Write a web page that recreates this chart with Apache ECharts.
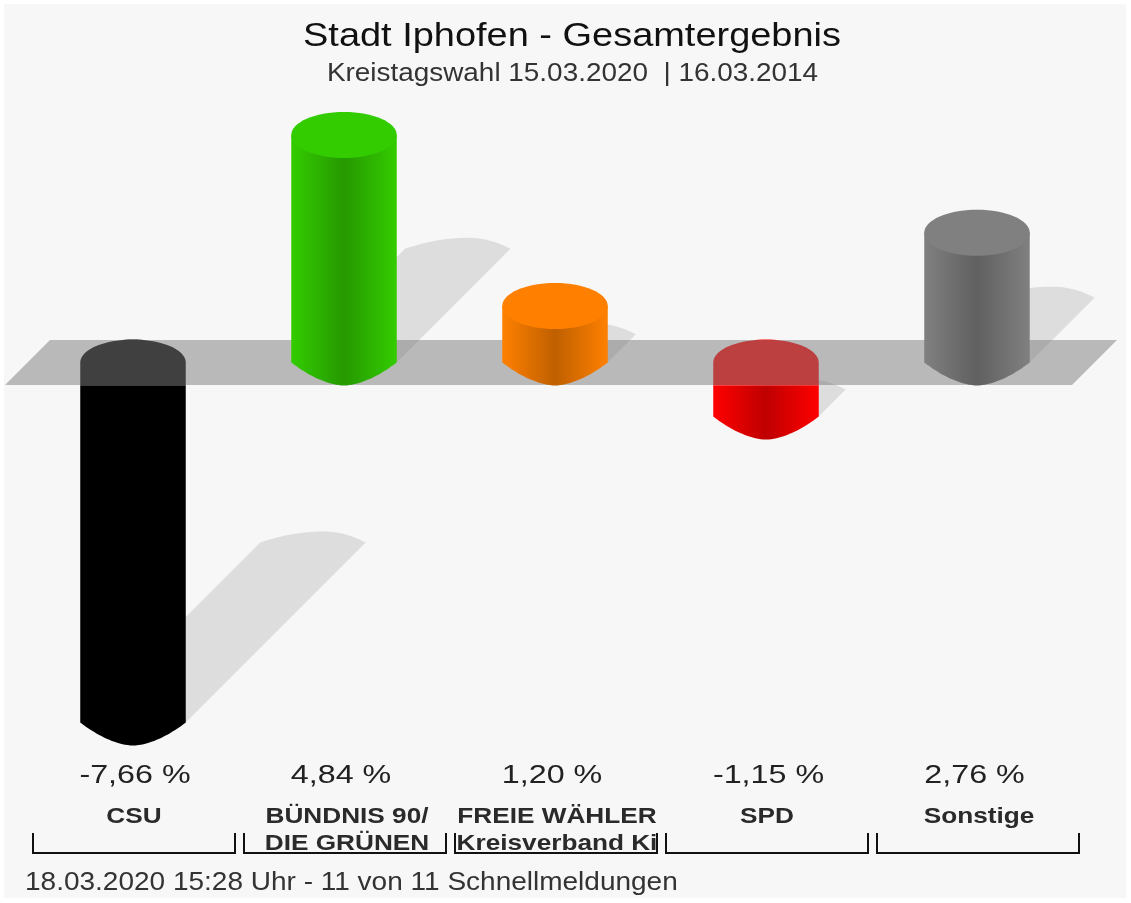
<!DOCTYPE html>
<html>
<head>
<meta charset="utf-8">
<script src="https://cdn.jsdelivr.net/npm/echarts@6/dist/echarts.min.js"></script>
<style>
html,body{margin:0;padding:0;background:#fff}
#c{width:1131px;height:903px;filter:blur(0.6px)}
</style>
</head>
<body>
<div id="c"></div>
<script>
const categories = ['CSU', 'BÜNDNIS 90/\nDIE GRÜNEN', 'FREIE WÄHLER\nKreisverband Ki', 'SPD', 'Sonstige'];
const values = [-7.66, 4.84, 1.20, -1.15, 2.76];
const edgeColors = ['#000000', '#33cc00', '#ff8000', '#ff0000', '#808080'];
const midColors = ['#000000', '#269900', '#bf6000', '#bf0000', '#606060'];
const titleText = 'Stadt Iphofen - Gesamtergebnis';
const subtitleText = 'Kreistagswahl 15.03.2020  | 16.03.2014';
const footerText = '18.03.2020 15:28 Uhr - 11 von 11 Schnellmeldungen';
const FONT = '"Liberation Sans", Arial, sans-serif';
const RY = 23;

function bandHalf(api){ return api.size([1,0])[0] * 0.25; }
function ellipseArc(cx, cy, a, b, from, to, n){
  const pts = [];
  for (let i = 0; i <= n; i++){
    const t = from + (to - from) * i / n;
    pts.push([cx + a * Math.cos(t), cy + b * Math.sin(t)]);
  }
  return pts;
}
function lens(cx, cy, a, b, n){
  const pts = [];
  for (let i = 0; i <= n; i++){
    const u = 1 - 2 * i / n;
    pts.push([cx + a * u, cy + b * (1 - Math.pow(Math.abs(u), 1.75))]);
  }
  return pts;
}
function grad(i){
  return {type:'linear', x:0, y:0, x2:1, y2:0, colorStops:[
    {offset:0, color:edgeColors[i]}, {offset:0.5, color:midColors[i]}, {offset:1, color:edgeColors[i]}]};
}
function bar(params, api){
  const i = api.value(0), v = api.value(1);
  const cx = api.coord([i, 0])[0], y0 = api.coord([i, 0])[1], y1 = api.coord([i, v])[1];
  const a = bandHalf(api);
  const kids = [];
  if (v >= 0){
    kids.push({type:'polygon', shape:{points:[[cx-a,y1],[cx+a,y1]].concat(lens(cx,y0,a,RY,40))}, style:{fill:grad(i)}});
    kids.push({type:'ellipse', shape:{cx:cx, cy:y1, rx:a, ry:RY}, style:{fill:edgeColors[i]}});
  } else {
    const yTop = y0 + RY;
    kids.push({type:'polygon', shape:{points:[[cx-a,yTop],[cx+a,yTop]].concat(lens(cx,y1,a,RY,40))}, style:{fill:grad(i)}});
    const dome = ellipseArc(cx, y0, a, RY, Math.PI, 2*Math.PI, 40);
    kids.push({type:'polygon', shape:{points:dome.concat([[cx+a,yTop],[cx-a,yTop]])}, style:{fill:edgeColors[i]}});
  }
  return {type:'group', children:kids};
}
function shadow(params, api){
  const i = api.value(0), v = api.value(1);
  const cx = api.coord([i, 0])[0], y0 = api.coord([i, 0])[1], y1 = api.coord([i, v])[1];
  const a = bandHalf(api);
  const h = Math.abs(y1 - y0);
  const base = v >= 0 ? y0 : y1;
  const s = h / 2;
  const peak = 0.2, arc = [];
  for (let k = 0; k <= 40; k++){
    const u = 1 - k / 20;
    const w = u > peak ? (u - peak) / (1 - peak) : (u - peak) / (1 + peak);
    arc.push([cx + s + a * u, base - s - 11 * (1 - w * w)]);
  }
  return {type:'polygon', shape:{points:[[cx+a, base]].concat(arc, [[cx-a, base]])}, style:{fill:'rgba(0,0,0,0.1)'}};
}
function plane(params, api){
  const y0 = api.coord([0, 0])[1];
  const first = api.coord([0, 0])[0], last = api.coord([categories.length-1, 0])[0];
  const h = 22.5;
  return {type:'polygon', shape:{points:[[first-128,y0+h],[first-83,y0-h],[last+140,y0-h],[last+95,y0+h]]},
    style:{fill:'rgba(125,125,125,0.51)'}};
}
function valueLabel(params, api){
  const i = api.value(0), v = api.value(1);
  const cx = api.coord([i, 0])[0];
  return {type:'text', x:cx + [2,-3,-3,2.5,-2.5][i], y:776, scaleX:1.24, style:{
    text:v.toFixed(2).replace('.', ',') + ' %', font:'26px ' + FONT, fill:'#222', align:'center', verticalAlign:'middle'}};
}
function partyLabel(params, api){
  const i = api.value(0);
  const cx = api.coord([i, 0])[0];
  return {type:'text', x:cx + [1,3,2,1,2][i], y:803, scaleX:1.19, style:{
    text:categories[i], font:'bold 22px ' + FONT, fill:'#2a2a2a', align:'center', verticalAlign:'top', lineHeight:27}};
}
function bracket(params, api){
  const i = api.value(0);
  const cx = api.coord([i, 0])[0] + 1;
  const w = 101;
  return {type:'polyline', shape:{points:[[cx-w,833],[cx-w,853],[cx+w,853],[cx+w,833]]},
    style:{stroke:'#111', lineWidth:2, fill:null}};
}

const rows = values.map((v, i) => [i, v]);
const negRows = rows.filter(r => r[1] < 0);
const posRows = rows.filter(r => r[1] >= 0);

const chart = echarts.init(document.getElementById('c'), null, {renderer:'canvas'});
chart.setOption({
  animation:false,
  backgroundColor:'#ffffff',
  graphic:[
    {type:'rect', z:-10, silent:true, shape:{x:4, y:4, width:1122, height:894}, style:{fill:'#f7f7f7'}},
    {type:'text', x:572, y:37, scaleX:1.15, z:10, style:{text:titleText, font:'33px ' + FONT, fill:'#111', align:'center', verticalAlign:'middle'}},
    {type:'text', x:572.5, y:74, scaleX:1.116, z:10, style:{text:subtitleText, font:'25px ' + FONT, fill:'#333', align:'center', verticalAlign:'middle'}},
    {type:'text', x:25, y:883, scaleX:1.12, z:10, style:{text:footerText, font:'25px ' + FONT, fill:'#333', align:'left', verticalAlign:'middle'}}
  ],
  grid:{left:27.5, width:1055, top:80.5, height:658},
  xAxis:{type:'category', data:categories, axisLine:{show:false}, axisTick:{show:false}, axisLabel:{show:false}},
  yAxis:{type:'value', min:-8, max:6, interval:1, show:false},
  series:[
    {type:'custom', z:1, silent:true, clip:false, data:rows, renderItem:shadow, encode:{x:0,y:1}},
    {type:'custom', z:2, silent:true, clip:false, data:negRows, renderItem:bar, encode:{x:0,y:1}},
    {type:'custom', z:3, silent:true, clip:false, data:[[0,0]], renderItem:plane},
    {type:'custom', z:4, silent:true, clip:false, data:posRows, renderItem:bar, encode:{x:0,y:1}},
    {type:'custom', z:5, silent:true, clip:false, data:rows, renderItem:valueLabel, encode:{x:0,y:1}},
    {type:'custom', z:5, silent:true, clip:false, data:rows, renderItem:partyLabel, encode:{x:0,y:1}},
    {type:'custom', z:5, silent:true, clip:false, data:rows, renderItem:bracket, encode:{x:0,y:1}}
  ]
});
</script>
</body>
</html>
